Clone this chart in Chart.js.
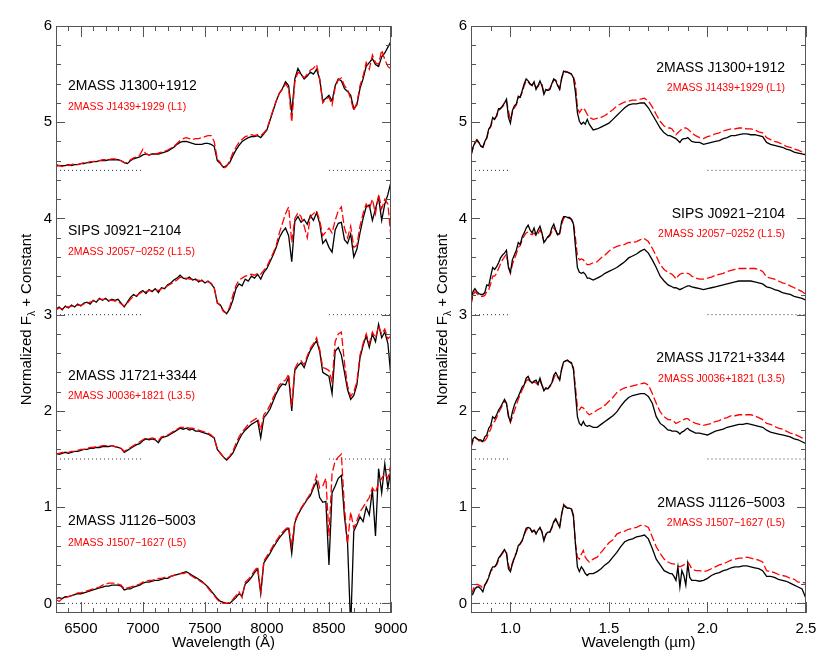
<!DOCTYPE html>
<html>
<head>
<meta charset="utf-8">
<script src="https://cdn.jsdelivr.net/npm/chart.js@4.4.0/dist/chart.umd.min.js"></script>
<style>
  body { margin: 0; background: #fff; }
  #wrap { position: relative; width: 830px; height: 664px; }
  canvas { position: absolute; top: 0; }
</style>
</head>
<body>
<div id="wrap">
  <canvas id="optChart" width="415" height="664" style="left:0"></canvas>
  <canvas id="nirChart" width="415" height="664" style="left:415px"></canvas>
</div>
<script>
// ---- data ----
let blackNames = ["2MASS J1300+1912", "SIPS J0921\u22122104", "2MASS J1721+3344", "2MASS J1126\u22125003"]
let redNames = ["2MASS J1439+1929 (L1)", "2MASS J2057\u22120252 (L1.5)", "2MASS J0036+1821 (L3.5)", "2MASS J1507\u22121627 (L5)"]
let offsets = [4.5, 3, 1.5, 0]
let optTicks = [6500, 7000, 7500, 8000, 8500, 9000]
let nirTicks = [1.0, 1.5, 2.0, 2.5]
let yTicks = [0, 1, 2, 3, 4, 5, 6]

// optical, wavelength in Angstrom
let wlOpt = [
    6300,6325,6350,6375,6400,6425,6450,6475,6500,6525,
    6550,6575,6600,6625,6650,6675,6700,6725,6750,6775,
    6800,6825,6850,6875,6900,6925,6950,6975,7000,7025,
    7050,7075,7100,7125,7150,7175,7200,7225,7250,7275,
    7300,7325,7350,7375,7400,7425,7450,7475,7500,7525,
    7550,7575,7600,7625,7650,7675,7700,7725,7750,7775,
    7800,7825,7850,7875,7900,7925,7950,7975,8000,8025,
    8050,8075,8100,8125,8150,8175,8200,8225,8250,8275,
    8300,8325,8350,8375,8400,8425,8450,8475,8500,8525,
    8550,8575,8600,8625,8650,8675,8700,8725,8750,8775,
    8800,8825,8850,8875,8900,8925,8950,8975,9000
]
let optBlack1 = [
    4.56,4.55,4.55,4.55,4.56,4.55,4.56,4.56,4.57,4.57,
    4.58,4.58,4.59,4.59,4.60,4.60,4.60,4.61,4.61,4.61,
    4.61,4.60,4.58,4.57,4.60,4.62,4.63,4.64,4.66,4.67,
    4.66,4.67,4.67,4.67,4.68,4.69,4.70,4.72,4.74,4.77,
    4.79,4.80,4.80,4.79,4.78,4.77,4.77,4.77,4.78,4.78,
    4.77,4.75,4.60,4.57,4.53,4.55,4.58,4.65,4.71,4.76,
    4.80,4.82,4.84,4.85,4.85,4.86,4.84,4.88,4.92,5.02,
    5.12,5.22,5.30,5.35,5.42,5.38,5.10,5.45,5.56,5.50,
    5.45,5.48,5.52,5.50,5.55,5.45,5.22,5.25,5.28,5.22,
    5.38,5.45,5.43,5.35,5.32,5.28,5.14,5.18,5.35,5.45,
    5.58,5.62,5.66,5.60,5.58,5.68,5.72,5.78,5.84
]
let optRed1 = [
    4.54,4.55,4.54,4.56,4.55,4.56,4.57,4.56,4.57,4.58,
    4.58,4.59,4.59,4.60,4.60,4.61,4.61,4.61,4.62,4.62,
    4.61,4.60,4.58,4.58,4.61,4.63,4.64,4.66,4.72,4.67,
    4.66,4.67,4.67,4.68,4.69,4.70,4.71,4.73,4.75,4.78,
    4.81,4.83,4.84,4.83,4.82,4.83,4.83,4.84,4.85,4.86,
    4.86,4.80,4.62,4.58,4.52,4.54,4.60,4.68,4.74,4.79,
    4.82,4.85,4.86,4.87,4.86,4.87,4.86,4.89,4.93,5.03,
    5.13,5.22,5.30,5.34,5.40,5.35,5.00,5.42,5.52,5.50,
    5.46,5.50,5.54,5.56,5.60,5.45,5.20,5.24,5.26,5.18,
    5.36,5.44,5.46,5.38,5.34,5.24,5.12,5.20,5.38,5.48,
    5.62,5.55,5.70,5.62,5.60,5.75,5.65,5.58,5.55
]
let optBlack2 = [
    3.06,3.08,3.05,3.09,3.07,3.10,3.08,3.11,3.09,3.12,
    3.13,3.11,3.15,3.13,3.17,3.15,3.17,3.14,3.16,3.15,
    3.16,3.12,3.08,3.13,3.18,3.21,3.19,3.23,3.25,3.22,
    3.26,3.24,3.27,3.23,3.28,3.27,3.31,3.33,3.36,3.38,
    3.41,3.38,3.37,3.39,3.36,3.37,3.34,3.36,3.33,3.35,
    3.32,3.28,3.12,3.10,3.04,3.01,3.06,3.15,3.27,3.32,
    3.30,3.37,3.35,3.40,3.38,3.42,3.37,3.44,3.48,3.55,
    3.62,3.70,3.80,3.86,3.90,3.82,3.55,3.97,4.02,3.96,
    3.99,3.94,4.03,3.98,4.06,3.95,3.74,3.78,3.70,3.65,
    3.88,3.95,3.96,3.78,3.74,3.84,3.60,3.68,3.85,4.00,
    4.12,4.14,3.98,4.10,4.22,3.98,4.15,4.25,4.38
]
let optRed2 = [
    3.05,3.07,3.06,3.08,3.08,3.09,3.09,3.10,3.10,3.11,
    3.12,3.13,3.14,3.15,3.16,3.16,3.16,3.15,3.15,3.14,
    3.14,3.11,3.09,3.12,3.16,3.19,3.20,3.22,3.24,3.24,
    3.25,3.25,3.26,3.25,3.27,3.28,3.30,3.32,3.34,3.36,
    3.39,3.38,3.38,3.37,3.37,3.36,3.36,3.35,3.35,3.34,
    3.33,3.28,3.13,3.09,3.03,3.02,3.08,3.20,3.30,3.36,
    3.38,3.40,3.41,3.42,3.41,3.43,3.42,3.46,3.50,3.57,
    3.64,3.72,3.85,3.95,4.05,4.12,3.75,4.00,4.06,4.02,
    3.92,3.80,4.02,4.05,4.08,3.98,3.82,3.86,3.90,3.85,
    3.98,4.08,4.12,3.90,3.80,3.92,3.70,3.72,3.92,4.05,
    4.15,4.10,4.20,4.05,4.25,4.10,4.20,4.15,3.80
]
let optBlack3 = [
    1.56,1.55,1.56,1.57,1.56,1.57,1.58,1.58,1.59,1.60,
    1.60,1.61,1.61,1.62,1.62,1.63,1.63,1.63,1.64,1.63,
    1.62,1.61,1.57,1.59,1.61,1.63,1.65,1.66,1.69,1.71,
    1.70,1.71,1.70,1.67,1.72,1.73,1.74,1.76,1.78,1.80,
    1.82,1.81,1.82,1.80,1.81,1.79,1.79,1.78,1.77,1.76,
    1.74,1.72,1.60,1.56,1.52,1.49,1.52,1.56,1.63,1.70,
    1.76,1.80,1.83,1.86,1.88,1.90,1.72,1.93,1.97,2.02,
    2.10,2.18,2.24,2.28,2.27,2.35,2.00,2.42,2.47,2.50,
    2.45,2.55,2.63,2.68,2.73,2.62,2.40,2.38,2.36,2.18,
    2.62,2.66,2.58,2.40,2.22,2.12,2.16,2.27,2.55,2.68,
    2.78,2.66,2.80,2.72,2.90,2.76,2.82,2.70,2.35
]
let optRed3 = [
    1.55,1.56,1.57,1.57,1.57,1.58,1.58,1.59,1.60,1.60,
    1.61,1.62,1.62,1.63,1.63,1.64,1.64,1.64,1.64,1.63,
    1.62,1.61,1.58,1.60,1.62,1.64,1.66,1.68,1.70,1.72,
    1.71,1.72,1.71,1.69,1.73,1.74,1.75,1.77,1.79,1.81,
    1.83,1.83,1.83,1.82,1.82,1.81,1.80,1.79,1.78,1.77,
    1.75,1.72,1.61,1.56,1.52,1.50,1.53,1.58,1.66,1.73,
    1.78,1.82,1.86,1.89,1.91,1.93,1.80,1.96,2.00,2.06,
    2.14,2.20,2.27,2.30,2.32,2.38,2.05,2.44,2.50,2.52,
    2.48,2.57,2.65,2.70,2.76,2.64,2.45,2.44,2.42,2.30,
    2.72,2.80,2.82,2.50,2.26,2.15,2.20,2.30,2.58,2.70,
    2.80,2.70,2.82,2.76,2.88,2.80,2.85,2.75,2.78
]
let optBlack4 = [
    0.05,0.06,0.05,0.07,0.07,0.08,0.09,0.10,0.10,0.11,
    0.12,0.13,0.14,0.15,0.16,0.17,0.18,0.18,0.19,0.19,
    0.19,0.18,0.14,0.15,0.15,0.17,0.18,0.19,0.21,0.22,
    0.22,0.23,0.24,0.24,0.25,0.26,0.26,0.28,0.29,0.30,
    0.31,0.32,0.33,0.31,0.29,0.27,0.25,0.23,0.20,0.17,
    0.13,0.09,0.05,0.02,0.01,0.00,0.00,0.03,0.06,0.10,
    0.08,0.20,0.23,0.27,0.32,0.36,0.10,0.42,0.47,0.52,
    0.58,0.63,0.68,0.72,0.76,0.78,0.52,0.84,0.92,0.98,
    1.03,1.08,1.12,1.20,1.27,1.10,1.05,1.06,0.40,1.15,
    1.22,1.30,1.33,0.90,0.62,-0.25,0.75,0.82,0.90,0.85,
    1.00,0.92,1.18,0.70,1.40,1.15,1.45,1.20,1.40
]
let optRed4 = [
    0.04,0.02,0.05,0.06,0.07,0.08,0.09,0.11,0.11,0.12,
    0.13,0.14,0.15,0.16,0.17,0.19,0.20,0.21,0.21,0.21,
    0.20,0.19,0.15,0.16,0.17,0.18,0.19,0.20,0.22,0.23,
    0.24,0.24,0.25,0.26,0.26,0.27,0.27,0.28,0.29,0.30,
    0.31,0.31,0.32,0.30,0.28,0.26,0.24,0.22,0.20,0.16,
    0.12,0.08,0.04,0.01,0.00,0.00,0.01,0.04,0.08,0.12,
    0.06,0.22,0.25,0.29,0.34,0.38,0.12,0.44,0.49,0.54,
    0.60,0.65,0.70,0.74,0.77,0.80,0.60,0.86,0.93,0.99,
    1.04,1.09,1.14,1.22,1.33,1.20,1.22,1.30,0.70,1.35,
    1.48,1.52,1.55,1.00,0.62,0.95,0.78,0.86,0.95,1.00,
    1.05,1.10,1.20,1.15,1.25,1.30,1.35,1.30,1.45
]

// near-infrared, wavelength in micron
let wlNir = [
    0.80,0.81,0.82,0.83,0.84,0.85,0.86,0.87,0.88,0.89,
    0.90,0.91,0.92,0.93,0.94,0.95,0.96,0.97,0.98,0.99,
    1.00,1.01,1.02,1.03,1.04,1.05,1.06,1.07,1.08,1.09,
    1.10,1.11,1.12,1.13,1.14,1.15,1.16,1.17,1.18,1.19,
    1.20,1.21,1.22,1.23,1.24,1.25,1.26,1.27,1.28,1.29,
    1.30,1.31,1.32,1.33,1.34,1.35,1.36,1.37,1.38,1.39,1.40,
    1.42,1.44,1.46,1.48,1.50,1.52,1.54,1.56,1.58,1.60,
    1.62,1.64,1.66,1.68,1.70,1.72,1.74,1.76,1.78,1.80,
    1.81,1.82,1.83,1.84,1.85,1.86,1.87,1.88,1.89,1.90,1.91,1.92,
    1.94,1.96,1.98,2.00,2.02,2.04,2.06,2.08,2.10,2.12,
    2.14,2.16,2.18,2.20,2.22,2.24,2.26,2.28,2.30,2.32,
    2.34,2.36,2.38,2.40,2.42,2.44,2.46,2.48,2.50
]
let nirBlack1 = [
    4.65,4.74,4.79,4.82,4.79,4.75,4.74,4.80,4.84,4.93,
    4.96,5.05,5.03,5.07,5.14,5.14,5.17,5.20,5.24,5.05,
    4.99,5.12,5.17,5.19,5.27,5.26,5.33,5.40,5.45,5.43,
    5.40,5.38,5.42,5.34,5.38,5.43,5.38,5.29,5.34,5.33,
    5.34,5.40,5.45,5.43,5.38,5.34,5.46,5.53,5.52,5.52,
    5.51,5.50,5.46,5.31,5.10,5.01,4.98,5.00,4.98,5.03,4.98,
    4.92,4.93,4.95,4.97,4.99,5.03,5.07,5.11,5.15,5.18,
    5.19,5.19,5.20,5.20,5.15,5.08,5.01,4.94,4.89,4.86,
    4.86,4.85,4.84,4.83,4.81,4.79,4.82,4.83,4.83,4.84,4.82,4.80,
    4.79,4.79,4.77,4.78,4.79,4.80,4.81,4.83,4.84,4.86,
    4.86,4.87,4.88,4.88,4.87,4.87,4.86,4.85,4.79,4.77,
    4.76,4.75,4.74,4.72,4.71,4.69,4.68,4.67,4.66
]
let nirRed1 = [
    4.66,4.73,4.78,4.81,4.78,4.76,4.74,4.79,4.83,4.92,
    4.95,5.03,5.04,5.06,5.12,5.15,5.16,5.19,5.22,5.12,
    5.02,5.10,5.15,5.18,5.25,5.27,5.31,5.38,5.43,5.42,
    5.39,5.39,5.41,5.36,5.37,5.41,5.39,5.31,5.33,5.34,
    5.35,5.39,5.44,5.44,5.39,5.35,5.45,5.52,5.53,5.52,
    5.51,5.50,5.47,5.40,5.15,5.10,5.13,5.15,5.12,5.08,5.05,
    5.03,5.04,5.05,5.07,5.10,5.13,5.17,5.19,5.21,5.22,
    5.23,5.23,5.24,5.25,5.22,5.16,5.08,5.01,4.96,4.94,
    4.94,4.93,4.90,4.87,4.89,4.91,4.93,4.94,4.94,4.93,4.91,4.89,
    4.86,4.84,4.83,4.85,4.86,4.88,4.89,4.91,4.92,4.93,
    4.93,4.94,4.94,4.93,4.93,4.92,4.90,4.89,4.84,4.82,
    4.80,4.79,4.77,4.75,4.74,4.72,4.71,4.69,4.68
]
let nirBlack2 = [
    3.12,3.24,3.27,3.24,3.22,3.21,3.21,3.23,3.31,3.30,
    3.40,3.49,3.47,3.50,3.54,3.59,3.62,3.64,3.67,3.49,
    3.44,3.57,3.62,3.67,3.75,3.73,3.81,3.85,3.90,3.93,
    3.88,3.85,3.90,3.83,3.88,3.92,3.85,3.75,3.78,3.81,
    3.83,3.90,3.94,3.88,3.83,3.85,3.97,4.02,4.02,4.01,
    4.01,3.99,3.94,3.71,3.49,3.44,3.43,3.44,3.42,3.38,3.38,
    3.36,3.38,3.40,3.43,3.45,3.47,3.49,3.52,3.55,3.59,
    3.61,3.63,3.66,3.68,3.64,3.57,3.49,3.40,3.35,3.31,
    3.30,3.29,3.28,3.28,3.27,3.26,3.27,3.28,3.29,3.30,3.30,3.29,
    3.28,3.27,3.26,3.27,3.28,3.29,3.30,3.31,3.32,3.33,
    3.34,3.35,3.35,3.35,3.35,3.34,3.33,3.32,3.29,3.28,
    3.26,3.25,3.23,3.22,3.21,3.19,3.18,3.17,3.15
]
let nirRed2 = [
    3.10,3.20,3.24,3.22,3.20,3.19,3.19,3.20,3.24,3.26,
    3.32,3.40,3.40,3.43,3.48,3.53,3.57,3.60,3.63,3.50,
    3.43,3.52,3.58,3.63,3.70,3.72,3.78,3.82,3.85,3.86,
    3.84,3.83,3.85,3.82,3.84,3.88,3.84,3.76,3.77,3.80,
    3.82,3.86,3.90,3.87,3.82,3.84,3.94,4.00,4.02,4.01,
    4.00,3.99,3.95,3.80,3.61,3.57,3.58,3.57,3.54,3.52,3.52,
    3.54,3.55,3.59,3.62,3.66,3.69,3.71,3.72,3.73,3.75,
    3.75,3.76,3.78,3.79,3.76,3.69,3.61,3.52,3.47,3.44,
    3.43,3.42,3.40,3.37,3.40,3.42,3.43,3.43,3.43,3.43,3.42,3.40,
    3.38,3.37,3.37,3.38,3.39,3.41,3.42,3.43,3.45,3.46,
    3.47,3.48,3.48,3.48,3.48,3.48,3.47,3.45,3.39,3.38,
    3.37,3.35,3.33,3.32,3.30,3.28,3.26,3.24,3.21
]
let nirBlack3 = [
    1.63,1.71,1.73,1.71,1.70,1.70,1.68,1.73,1.75,1.82,
    1.85,1.94,1.92,1.96,2.01,2.04,2.08,2.12,2.08,1.94,
    1.89,1.99,2.06,2.11,2.15,2.20,2.25,2.27,2.34,2.36,
    2.31,2.29,2.31,2.32,2.28,2.34,2.27,2.21,2.24,2.23,
    2.26,2.29,2.37,2.40,2.36,2.32,2.44,2.51,2.52,2.53,
    2.51,2.50,2.43,2.18,1.94,1.87,1.85,1.89,1.85,1.84,1.85,
    1.83,1.83,1.86,1.89,1.92,1.95,1.99,2.05,2.10,2.14,
    2.16,2.17,2.18,2.18,2.15,2.08,1.94,1.87,1.84,1.80,
    1.80,1.79,1.79,1.79,1.78,1.76,1.78,1.79,1.81,1.82,1.80,1.79,
    1.77,1.77,1.76,1.75,1.77,1.79,1.80,1.81,1.83,1.84,
    1.85,1.86,1.86,1.87,1.86,1.85,1.84,1.83,1.80,1.78,
    1.77,1.76,1.75,1.74,1.73,1.71,1.70,1.68,1.66
]
let nirRed3 = [
    1.62,1.69,1.72,1.71,1.69,1.69,1.67,1.69,1.72,1.77,
    1.81,1.88,1.89,1.93,1.98,2.02,2.06,2.10,2.08,1.96,
    1.88,1.94,2.00,2.06,2.12,2.17,2.22,2.26,2.31,2.33,
    2.30,2.29,2.30,2.29,2.27,2.31,2.27,2.22,2.23,2.23,
    2.25,2.28,2.34,2.38,2.35,2.33,2.43,2.50,2.52,2.52,
    2.51,2.49,2.45,2.25,2.04,2.01,2.04,2.03,2.01,1.98,1.96,
    1.98,2.01,2.03,2.06,2.10,2.14,2.19,2.22,2.24,2.25,
    2.26,2.27,2.28,2.29,2.27,2.18,2.08,1.99,1.94,1.91,
    1.91,1.90,1.89,1.87,1.88,1.89,1.90,1.91,1.92,1.92,1.90,1.89,
    1.87,1.86,1.85,1.86,1.87,1.89,1.90,1.92,1.93,1.95,
    1.95,1.96,1.96,1.96,1.96,1.95,1.93,1.91,1.87,1.86,
    1.84,1.82,1.81,1.79,1.77,1.76,1.74,1.72,1.70
]
let nirBlack4 = [
    0.08,0.10,0.15,0.17,0.17,0.15,0.12,0.19,0.22,0.27,
    0.34,0.38,0.38,0.41,0.47,0.50,0.53,0.56,0.52,0.36,
    0.33,0.41,0.47,0.52,0.60,0.62,0.65,0.72,0.78,0.79,
    0.78,0.74,0.76,0.72,0.76,0.79,0.74,0.65,0.72,0.74,
    0.74,0.79,0.85,0.88,0.83,0.79,0.93,1.02,1.00,0.99,
    0.99,0.98,0.90,0.62,0.38,0.33,0.38,0.35,0.31,0.29,0.31,
    0.31,0.33,0.36,0.40,0.43,0.48,0.53,0.59,0.64,0.66,
    0.67,0.69,0.70,0.71,0.67,0.57,0.46,0.40,0.34,0.32,
    0.31,0.31,0.28,0.24,0.38,0.17,0.34,0.29,0.19,0.41,0.27,0.24,
    0.24,0.23,0.24,0.26,0.29,0.31,0.32,0.34,0.35,0.37,
    0.38,0.38,0.39,0.39,0.38,0.37,0.36,0.34,0.28,0.28,
    0.27,0.25,0.24,0.23,0.21,0.19,0.17,0.15,0.05
]
let nirRed4 = [
    0.09,0.14,0.19,0.20,0.19,0.18,0.16,0.19,0.23,0.28,
    0.33,0.36,0.38,0.40,0.45,0.49,0.52,0.55,0.53,0.40,
    0.35,0.42,0.48,0.53,0.59,0.62,0.66,0.71,0.76,0.78,
    0.77,0.75,0.76,0.74,0.76,0.78,0.75,0.67,0.71,0.73,
    0.74,0.78,0.84,0.87,0.84,0.80,0.92,1.03,1.01,0.99,
    0.99,0.98,0.92,0.62,0.48,0.46,0.51,0.55,0.48,0.45,0.43,
    0.46,0.48,0.53,0.58,0.63,0.66,0.72,0.74,0.75,0.77,
    0.78,0.79,0.81,0.81,0.79,0.69,0.59,0.52,0.46,0.43,
    0.42,0.41,0.41,0.40,0.39,0.38,0.39,0.40,0.42,0.43,0.40,0.36,
    0.34,0.34,0.33,0.34,0.36,0.38,0.40,0.41,0.43,0.45,
    0.46,0.47,0.47,0.48,0.47,0.46,0.45,0.43,0.34,0.33,
    0.32,0.30,0.29,0.28,0.26,0.25,0.22,0.22,0.21
]

// ---- drawing ----
const FONT = '"Liberation Sans", Arial, Helvetica, sans-serif'
const RED = '#ff0000'

function spectrum(xs, ys, color, dashed, order) {
    return {
        data: xs.map((x, i) => ({ x: x, y: ys[i] })),
        borderColor: color,
        borderWidth: 1.3,
        borderDash: dashed ? [8, 3] : [],
        pointRadius: 0,
        tension: 0,
        fill: false,
        order: order
    }
}

function dotted(x0, x1, y) {
    return {
        data: [{ x: x0, y: y }, { x: x1, y: y }],
        borderColor: '#333',
        borderWidth: 1,
        borderDash: [1, 3],
        pointRadius: 0,
        order: 5
    }
}

function refLines(sideRanges, fullRange) {
    let sets = []
    offsets.forEach(o => {
        if (o === 0) {
            sets.push(dotted(fullRange[0], fullRange[1], o))
        } else {
            sideRanges.forEach(r => sets.push(dotted(r[0], r[1], o)))
        }
    })
    return sets
}

function drawYTitle(ctx, cx, cy) {
    ctx.save()
    ctx.translate(cx, cy)
    ctx.rotate(-Math.PI / 2)
    let big = '15px ' + FONT, small = '10px ' + FONT
    let p1 = 'Normalized F', p2 = '\u03bb', p3 = ' + Constant'
    ctx.font = big
    let w1 = ctx.measureText(p1).width
    let w3 = ctx.measureText(p3).width
    ctx.font = small
    let w2 = ctx.measureText(p2).width
    let x = -(w1 + w2 + w3) / 2
    ctx.fillStyle = '#000'
    ctx.textAlign = 'left'
    ctx.textBaseline = 'middle'
    ctx.font = big; ctx.fillText(p1, x, 0); x += w1
    ctx.font = small; ctx.fillText(p2, x, 5); x += w2
    ctx.font = big; ctx.fillText(p3, x, 0)
    ctx.restore()
}

// frame, inward ticks, titles and object names
const decor = {
    id: 'decor',
    afterDatasetsDraw(chart, args, o) {
        const ctx = chart.ctx
        const a = chart.chartArea
        const sx = chart.scales.x, sy = chart.scales.y
        ctx.save()
        ctx.strokeStyle = '#555'
        ctx.lineWidth = 1
        ctx.setLineDash([])
        ctx.strokeRect(a.left + 0.5, a.top + 0.5, a.width - 1, a.height - 1)

        ctx.beginPath()
        for (let i = Math.ceil(sx.min / o.xMinor - 1e-6); i * o.xMinor <= sx.max + 1e-9; i++) {
            let v = i * o.xMinor
            let r = v / o.xMajor
            let len = Math.abs(r - Math.round(r)) < 1e-6 ? 11 : 5
            let px = Math.round(sx.getPixelForValue(v)) + 0.5
            ctx.moveTo(px, a.bottom); ctx.lineTo(px, a.bottom - len)
            ctx.moveTo(px, a.top); ctx.lineTo(px, a.top + len)
        }
        for (let i = Math.ceil(sy.min / 0.2 - 1e-6); i * 0.2 <= sy.max + 1e-9; i++) {
            let v = i * 0.2
            let len = i % 5 === 0 ? 9 : 5
            let py = Math.round(sy.getPixelForValue(v)) + 0.5
            ctx.moveTo(a.left, py); ctx.lineTo(a.left + len, py)
            ctx.moveTo(a.right, py); ctx.lineTo(a.right - len, py)
        }
        ctx.stroke()

        drawYTitle(ctx, o.yTitleX, (a.top + a.bottom) / 2)

        ctx.fillStyle = '#000'
        ctx.font = '15px ' + FONT
        ctx.textAlign = 'center'
        ctx.textBaseline = 'middle'
        ctx.fillText(o.xTitle, (a.left + a.right) / 2, 643)

        ctx.textAlign = o.labelAlign
        let lx = o.labelAlign === 'left' ? a.left + 12 : a.right - 21
        blackNames.forEach((name, i) => {
            ctx.fillStyle = '#000'
            ctx.font = '14px ' + FONT
            ctx.fillText(name, lx, sy.getPixelForValue(o.blackAt[i]))
            ctx.fillStyle = RED
            ctx.font = '10.5px ' + FONT
            ctx.fillText(redNames[i], lx, sy.getPixelForValue(o.redAt[i]))
        })
        ctx.restore()
    }
}

function baseOptions(xmin, xmax, xTicks, xfmt) {
    return {
        responsive: false,
        animation: false,
        devicePixelRatio: 1,
        layout: { padding: { top: 26, right: 24, left: 0, bottom: 0 } },
        plugins: { legend: { display: false }, tooltip: { enabled: false } },
        scales: {
            x: {
                type: 'linear',
                min: xmin,
                max: xmax,
                grid: { display: false, drawTicks: false },
                border: { display: false },
                afterBuildTicks: s => { s.ticks = xTicks.map(v => ({ value: v })) },
                ticks: {
                    autoSkip: false,
                    padding: 7,
                    color: '#000',
                    font: { family: FONT, size: 15 },
                    maxRotation: 0,
                    callback: xfmt
                },
                afterFit: s => { s.height = 51 }
            },
            y: {
                type: 'linear',
                min: -0.1,
                max: 6,
                grid: { display: false, drawTicks: false },
                border: { display: false },
                afterBuildTicks: s => { s.ticks = yTicks.map(v => ({ value: v })) },
                ticks: {
                    autoSkip: false,
                    padding: 4,
                    color: '#000',
                    font: { family: FONT, size: 15 },
                    callback: v => String(v)
                },
                afterFit: s => { s.width = 56 }
            }
        }
    }
}

function initCharts() {
    let optSets = refLines([[6300, 7000], [8500, 9000]], [6300, 9000])
    let optBlack = [optBlack1, optBlack2, optBlack3, optBlack4]
    let optRed = [optRed1, optRed2, optRed3, optRed4]
    for (let i = 0; i < 4; i++) {
        optSets.push(spectrum(wlOpt, optBlack[i], '#000', false, 2))
        optSets.push(spectrum(wlOpt, optRed[i], RED, true, 1))
    }
    let optOpts = baseOptions(6300, 9000, optTicks, v => v.toFixed(0))
    optOpts.plugins.decor = {
        xMajor: 500, xMinor: 100, yTitleX: 27, xTitle: 'Wavelength (\u00c5)',
        labelAlign: 'left',
        blackAt: [5.38, 3.87, 2.36, 0.85],
        redAt: [5.16, 3.65, 2.15, 0.63]
    }
    new Chart(document.getElementById('optChart'), {
        type: 'line',
        data: { datasets: optSets },
        options: optOpts,
        plugins: [decor]
    })

    let nirSets = refLines([[0.8, 1.0], [2.0, 2.5]], [0.8, 2.5])
    let nirBlack = [nirBlack1, nirBlack2, nirBlack3, nirBlack4]
    let nirRed = [nirRed1, nirRed2, nirRed3, nirRed4]
    for (let i = 0; i < 4; i++) {
        nirSets.push(spectrum(wlNir, nirRed[i], RED, true, 2))
        nirSets.push(spectrum(wlNir, nirBlack[i], '#000', false, 1))
    }
    let nirOpts = baseOptions(0.8, 2.5, nirTicks, v => v.toFixed(1))
    nirOpts.plugins.decor = {
        xMajor: 0.5, xMinor: 0.1, yTitleX: 28, xTitle: 'Wavelength (\u00b5m)',
        labelAlign: 'right',
        blackAt: [5.56, 4.05, 2.55, 1.04],
        redAt: [5.35, 3.84, 2.33, 0.83]
    }
    new Chart(document.getElementById('nirChart'), {
        type: 'line',
        data: { datasets: nirSets },
        options: nirOpts,
        plugins: [decor]
    })
}

initCharts()
</script>
</body>
</html>
